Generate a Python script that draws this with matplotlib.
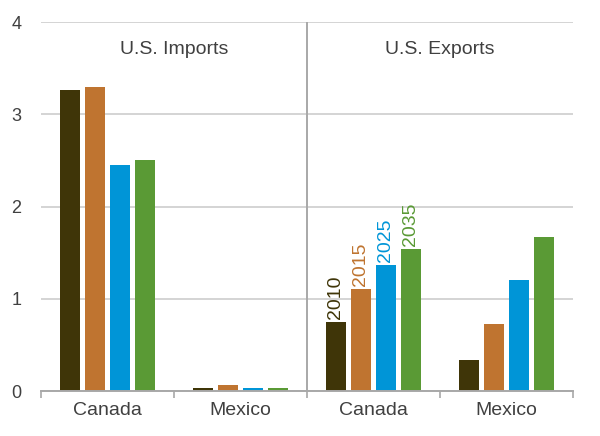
import matplotlib.pyplot as plt
import numpy as np

plt.rcParams['font.family'] = ['Liberation Sans', 'DejaVu Sans']

# data
categories = ["Canada", "Mexico", "Canada", "Mexico"]
sections = ["U.S. Imports", "U.S. Exports"]
years = ["2010", "2015", "2025", "2035"]
v2010 = [3.26, 0.035, 0.75, 0.34]
v2015 = [3.30, 0.07, 1.11, 0.73]
v2025 = [2.45, 0.03, 1.37, 1.20]
v2035 = [2.50, 0.03, 1.54, 1.67]
series = [v2010, v2015, v2025, v2035]
colors = ["#3f3508", "#bf7430", "#0095d7", "#5a9a35"]
labelled_group = 2  # year labels sit on Exports / Canada

fig = plt.figure(figsize=(6, 4.36), dpi=100)
ax = fig.add_axes([0.0683, 0.1032, 0.8867, 0.8463])

x = np.arange(len(categories))
width = 0.15
step = 0.188
for i, (vals, col) in enumerate(zip(series, colors)):
    pos = x + (i - 1.5) * step
    ax.bar(pos, vals, width=width, color=col, zorder=3)
    ax.text(pos[labelled_group], vals[labelled_group] + 0.03, years[i],
            rotation=90, ha='center', va='bottom', color=col, fontsize=14)

ax.set_xlim(-0.5, 3.5)
ax.set_ylim(0, 4)
ax.set_yticks([0, 1, 2, 3, 4])
ax.grid(axis='y', color='#d4d4d4', linewidth=1.4, zorder=0)
ax.axvline(1.5, color='#a8a8a8', linewidth=1.4, zorder=2)

ax.set_xticks(x)
ax.set_xticklabels(categories)
ax.set_xticks([-0.5, 0.5, 1.5, 2.5, 3.5], minor=True)
ax.tick_params(axis='x', which='major', length=0, pad=8, labelsize=14, labelcolor='#404040')
ax.tick_params(axis='x', which='minor', length=5, color='#a8a8a8', width=1.2)
ax.tick_params(axis='y', length=0, pad=14, labelsize=13, labelcolor='#404040')

for s in ['left', 'top', 'right']:
    ax.spines[s].set_visible(False)
ax.spines['bottom'].set_color('#a8a8a8')
ax.spines['bottom'].set_linewidth(1.4)
ax.spines['bottom'].set_zorder(4)

ax.text(0.5, 3.70, sections[0], ha='center', va='center', fontsize=14, color='#404040')
ax.text(2.5, 3.70, sections[1], ha='center', va='center', fontsize=14, color='#404040')

fig.savefig("out.png", dpi=100)
